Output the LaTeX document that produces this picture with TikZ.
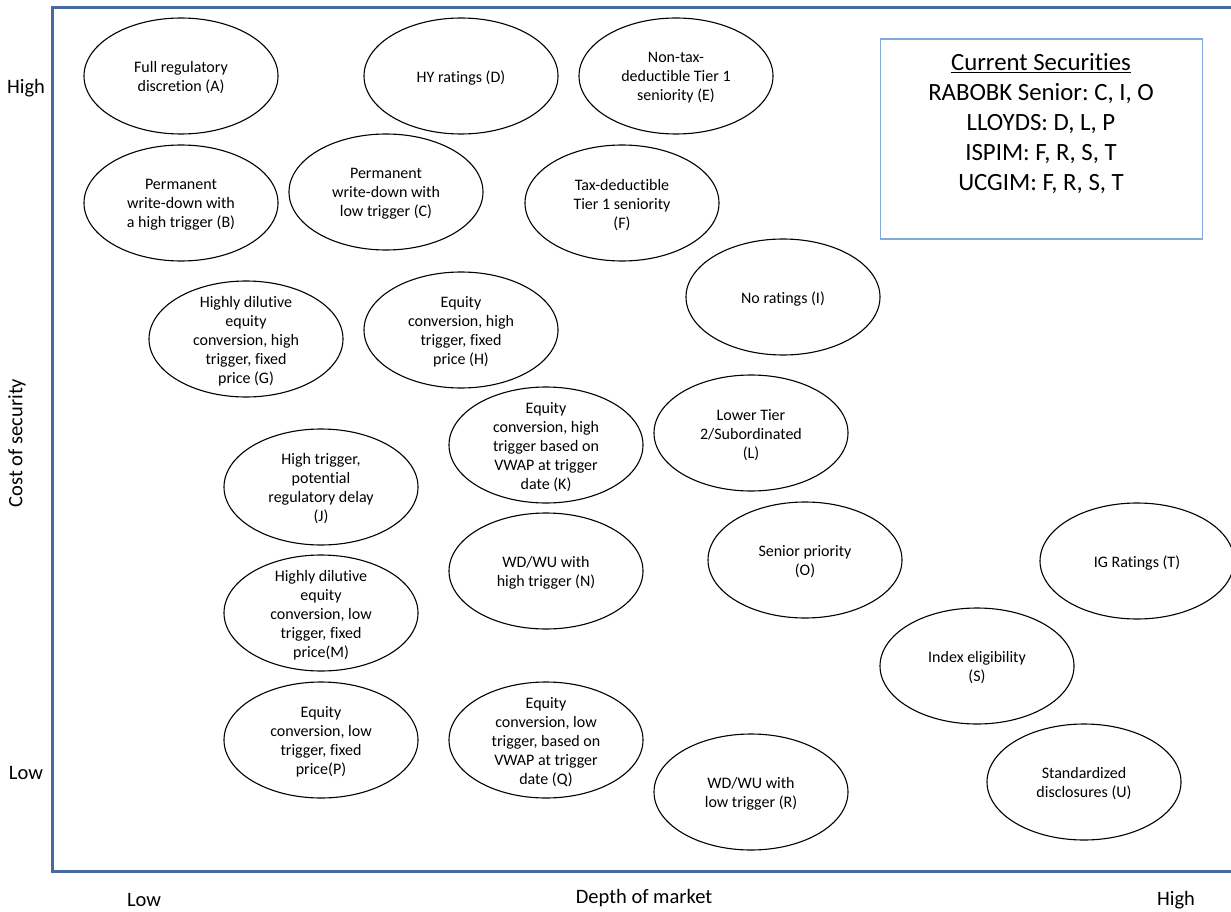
\documentclass[tikz,border=0pt]{standalone}
\usepackage{fontspec}
\setmainfont{Carlito}[Ligatures=NoCommon]
\frenchspacing
\usetikzlibrary{shapes.geometric}
\definecolor{framecol}{RGB}{68,108,160}
\definecolor{boxcol}{RGB}{130,170,220}
\tikzset{
    bubble/.style = {draw, ellipse, line width=1.1pt, inner sep=0pt,
        minimum width=194pt, minimum height=116pt},
    txt/.style = {align=center, yshift=-2pt, font=\fontsize{16}{19}\selectfont},
    axislbl/.style = {font=\fontsize{20.5}{24}\selectfont}
}
\newcommand{\bub}[3]{\node[bubble, label={[txt]center:#3}] (#1) at (#2) {};}

\begin{document}
\begin{tikzpicture}[x=1pt, y=-1pt]
    \useasboundingbox (0,0) rectangle (1231,912);
    % frame
    \coordinate (tr) at (1231,8);
    \coordinate (tl) at (52,8);
    \coordinate (bl) at (52,871);
    \coordinate (br) at (1231,871);
    \draw[framecol, line width=3pt] (tr) -- (tl) -- (bl) -- (br);
    % axis labels
    \node[axislbl] (yhigh) at (26,88) {High};
    \node[axislbl] (ylow) at (26,773) {Low};
    \node[axislbl, rotate=90] (ylbl) at (17,443) {Cost of security};
    \node[axislbl] (xlow) at (144,900) {Low};
    \node[axislbl] (xlbl) at (644,898) {Depth of market};
    \node[axislbl] (xhigh) at (1176,900) {High};
    % bubbles
    \bub{A}{181,76}{Full regulatory\\discretion (A)}
    \bub{D}{461,76}{HY ratings (D)}
    \bub{E}{676,76}{Non-tax-\\deductible Tier 1\\seniority (E)}
    \bub{B}{181,203}{Permanent\\write-down with\\a high trigger (B)}
    \bub{C}{386,192}{Permanent\\write-down with\\low trigger (C)}
    \bub{F}{622,203}{Tax-deductible\\Tier 1 seniority\\(F)}
    \bub{I}{783,297}{No ratings (I)}
    \bub{G}{246,339}{Highly dilutive\\equity\\conversion, high\\trigger, fixed\\price (G)}
    \bub{H}{461,330}{Equity\\conversion, high\\trigger, fixed\\price (H)}
    \bub{K}{546,445}{Equity\\conversion, high\\trigger based on\\VWAP at trigger\\date (K)}
    \bub{L}{751,433}{Lower Tier\\2/Subordinated\\(L)}
    \bub{J}{321,487}{High trigger,\\potential\\regulatory delay\\(J)}
    \bub{N}{546,571}{WD/WU with\\high trigger (N)}
    \bub{O}{805,560}{Senior priority\\(O)}
    \bub{T}{1137,561}{IG Ratings (T)}
    \bub{M}{321,613}{Highly dilutive\\equity\\conversion, low\\trigger, fixed\\price(M)}
    \bub{S}{977,666}{Index eligibility\\(S)}
    \bub{P}{321,740}{Equity\\conversion, low\\trigger, fixed\\price(P)}
    \bub{Q}{546,740}{Equity\\conversion, low\\trigger, based on\\VWAP at trigger\\date (Q)}
    \bub{R}{751,792}{WD/WU with\\low trigger (R)}
    \bub{U}{1084,782}{Standardized\\disclosures (U)}
    % current securities box
    \node[draw=boxcol, line width=1.3pt, minimum width=322pt, minimum height=200pt,
        inner sep=0pt] (box) at (1041.5,139) {};
    \node[align=center, anchor=north, font=\fontsize{24.8}{30}\selectfont]
        (boxtxt) at (1041,50) {\underline{Current Securities}\\RABOBK Senior: C, I, O\\LLOYDS: D, L, P\\ISPIM: F, R, S, T\\UCGIM: F, R, S, T};
\end{tikzpicture}
\end{document}
